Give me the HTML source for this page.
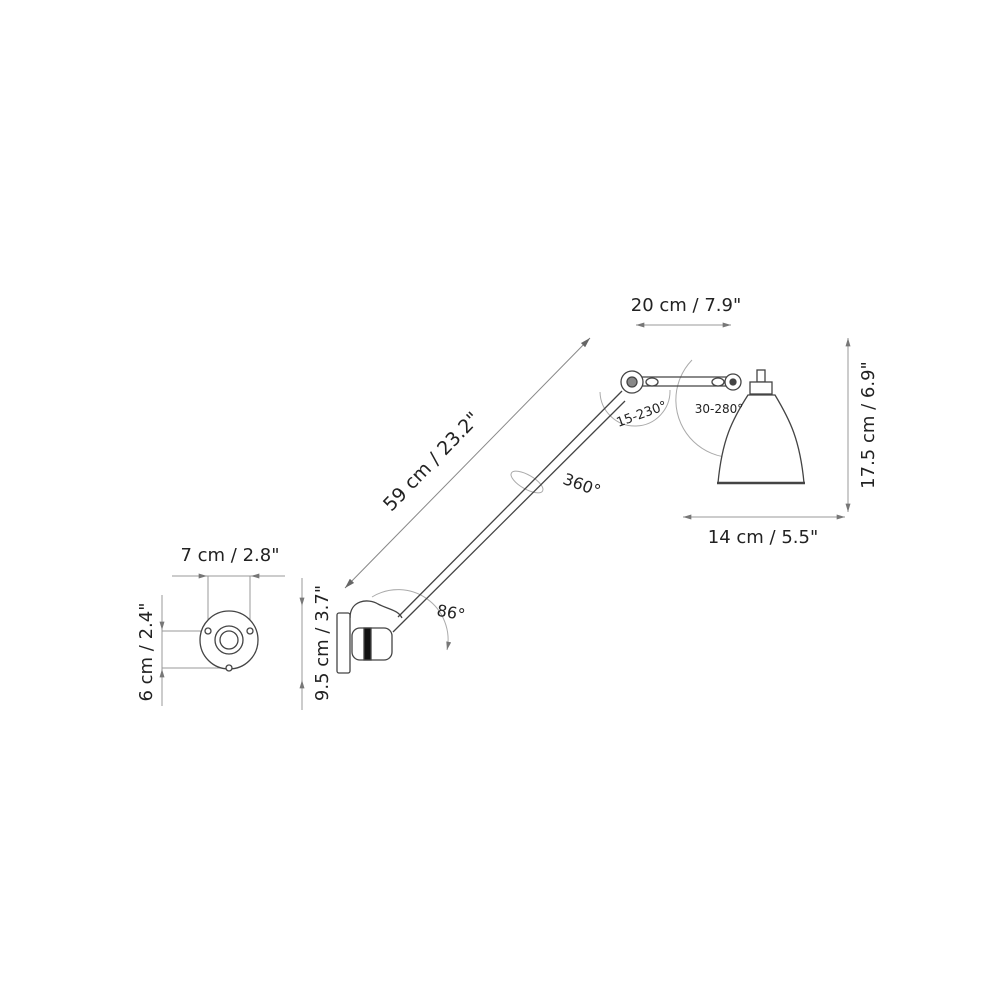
<!DOCTYPE html>
<html><head><meta charset="utf-8"><style>
html,body{margin:0;padding:0;background:#fff;width:1000px;height:1000px;overflow:hidden}
svg text{font-family:"DejaVu Sans","Liberation Sans",sans-serif;fill:#222}
</style></head><body>
<svg width="1000" height="1000" viewBox="0 0 1000 1000" xmlns="http://www.w3.org/2000/svg">
<defs>
<marker id="a" viewBox="0 0 10 6" refX="10" refY="3" markerWidth="10" markerHeight="6" orient="auto-start-reverse" markerUnits="userSpaceOnUse"><path d="M0,0 L10,3 L0,6 Z" fill="#666"/></marker>
<marker id="b" viewBox="0 0 10 6" refX="10" refY="3" markerWidth="14" markerHeight="5" orient="auto-start-reverse" markerUnits="userSpaceOnUse"><path d="M0,0 L10,3 L0,6 Z" fill="#777"/></marker>
</defs>
<g stroke="#999" stroke-width="1" fill="none">
<!-- 59cm dim -->
<line x1="345" y1="588" x2="590" y2="338" marker-start="url(#a)" marker-end="url(#a)" stroke="#888"/>
<!-- 20cm -->
<line x1="636" y1="325" x2="731" y2="325" marker-start="url(#b)" marker-end="url(#b)"/>
<!-- 17.5 -->
<line x1="848" y1="338" x2="848" y2="512" marker-start="url(#b)" marker-end="url(#b)"/>
<!-- 14cm -->
<line x1="683" y1="517" x2="845" y2="517" marker-start="url(#b)" marker-end="url(#b)"/>
<!-- 7cm -->
<line x1="172" y1="576" x2="285" y2="576"/>
<line x1="190" y1="576" x2="207" y2="576" marker-end="url(#b)"/>
<line x1="268" y1="576" x2="251" y2="576" marker-end="url(#b)"/>
<line x1="208" y1="576" x2="208" y2="620"/>
<line x1="250" y1="576" x2="250" y2="620"/>
<!-- 6cm -->
<line x1="162" y1="595" x2="162" y2="706"/>
<line x1="162" y1="612" x2="162" y2="630" marker-end="url(#b)"/>
<line x1="162" y1="686" x2="162" y2="669" marker-end="url(#b)"/>
<line x1="162" y1="631" x2="207" y2="631"/>
<line x1="162" y1="668" x2="226" y2="668"/>
<!-- 9.5cm -->
<line x1="302" y1="578" x2="302" y2="710"/>
<line x1="302" y1="585" x2="302" y2="606" marker-end="url(#b)"/>
<line x1="302" y1="700" x2="302" y2="680" marker-end="url(#b)"/>
<!-- rotation arcs -->
<path d="M372,597 A50,50 0 0 1 447,650" stroke="#aaa" marker-end="url(#b)"/>
<path d="M600,392 A30,30 0 1 0 670,390" stroke="#aaa"/>
<path d="M692,360 A42,42 0 1 0 775,440" stroke="#aaa"/>
<ellipse cx="527" cy="482" rx="18" ry="7" transform="rotate(30 527 482)" stroke="#aaa"/>
</g>
<!-- base plate -->
<g stroke="#444" stroke-width="1.3" fill="#fff">
<circle cx="229" cy="640" r="29"/>
<circle cx="229" cy="640" r="14"/>
<circle cx="229" cy="640" r="9"/>
<circle cx="208" cy="631" r="3"/>
<circle cx="250" cy="631" r="3"/>
<circle cx="229" cy="668" r="3"/>
</g>
<!-- arm -->
<g stroke="#444" stroke-width="1.3" fill="#fff">
<line x1="398" y1="617" x2="622" y2="391"/>
<line x1="393" y1="632" x2="625" y2="401"/>
<path d="M350,618 C350,600 368,598 378,604 C390,610 398,610 402,618" fill="none"/>
<rect x="337" y="613" width="13" height="60" rx="2"/>
<rect x="352" y="628" width="40" height="32" rx="8"/>
<rect x="364" y="628" width="7" height="32" fill="#111"/>
<line x1="640" y1="377" x2="735" y2="377"/>
<line x1="640" y1="386" x2="735" y2="386"/>
<circle cx="632" cy="382" r="11"/>
<circle cx="632" cy="382" r="5" fill="#888"/>
<ellipse cx="652" cy="382" rx="6" ry="4"/>
<ellipse cx="718" cy="382" rx="6" ry="4"/>
<circle cx="733" cy="382" r="8"/>
<circle cx="733" cy="382" r="3" fill="#444"/>
<rect x="757" y="370" width="8" height="12"/>
<rect x="750" y="382" width="22" height="12"/>
<path d="M748,395 L775,395 C790,420 800,440 804,483 L718,483 C722,440 732,420 748,395 Z"/>
<line x1="717" y1="483" x2="805" y2="483" stroke-width="2.5"/>
</g>
<text x="686" y="311" font-size="18" text-anchor="middle">20 cm / 7.9"</text>
<text x="763" y="543" font-size="18" text-anchor="middle">14 cm / 5.5"</text>
<text transform="translate(874,425) rotate(-90)" font-size="18" text-anchor="middle">17.5 cm / 6.9"</text>
<text x="230" y="561" font-size="18" text-anchor="middle">7 cm / 2.8"</text>
<text transform="translate(152,652) rotate(-90)" font-size="18" text-anchor="middle">6 cm / 2.4"</text>
<text transform="translate(328,643) rotate(-90)" font-size="18" text-anchor="middle">9.5 cm / 3.7"</text>
<text transform="translate(436,466) rotate(-46)" font-size="19" text-anchor="middle">59 cm / 23.2"</text>
<text transform="translate(580,490) rotate(20)" font-size="16" text-anchor="middle">360°</text>
<text transform="translate(450,618) rotate(10)" font-size="16" text-anchor="middle">86°</text>
<text transform="translate(643,418) rotate(-20)" font-size="13" text-anchor="middle">15-230°</text>
<text x="719" y="413" font-size="12" text-anchor="middle">30-280°</text>
</svg>
</body></html>
